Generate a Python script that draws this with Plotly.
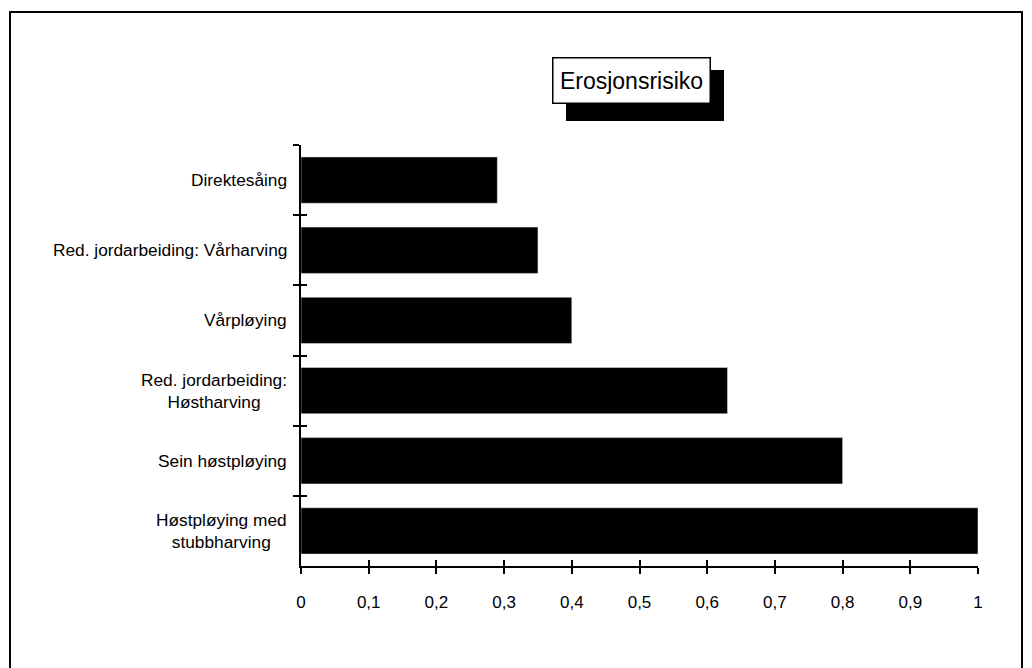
import plotly.graph_objects as go

categories = [
    "Direktesåing",
    "Red. jordarbeiding: Vårharving",
    "Vårpløying",
    "Red. jordarbeiding:<br>Høstharving",
    "Sein høstpløying",
    "Høstpløying med<br>stubbharving",
]
values = [0.29, 0.35, 0.40, 0.63, 0.80, 1.0]
x_ticks = [0, 0.1, 0.2, 0.3, 0.4, 0.5, 0.6, 0.7, 0.8, 0.9, 1]
title_text = "Erosjonsrisiko"

FONT = "Liberation Sans, Arial, Helvetica, sans-serif"
OFF = 8  # page body margin
W, H = 1032 - OFF, 668 - OFF
# plot area in page pixels: x 301..978, y 145..566
ML = 301 - OFF
MR = W - (978 - OFF)
MT = 145 - OFF
MB = H - (566 - OFF)
PW = W - ML - MR
PH = H - MT - MB


def px_x(p):  # page pixel -> paper fraction
    return (p - OFF - ML) / PW


def px_y(p):
    return (H - MB - (p - OFF)) / PH


fig = go.Figure()
fig.add_trace(go.Bar(
    x=values, y=categories, orientation="h",
    marker=dict(color="black", line=dict(width=0)),
    width=0.66, hoverinfo="skip", showlegend=False,
))
# invisible copy on overlay axes to draw the inner half of the ticks
fig.add_trace(go.Bar(
    x=values, y=categories, orientation="h", xaxis="x2", yaxis="y2",
    marker=dict(color="rgba(0,0,0,0)"), width=0.66,
    hoverinfo="skip", showlegend=False,
))

fig.update_layout(
    width=W, height=H,
    margin=dict(l=ML, r=MR, t=MT, b=MB),
    paper_bgcolor="white", plot_bgcolor="white",
    separators=",.",
    font=dict(family=FONT, color="black", size=16),
    xaxis=dict(
        range=[0, 1], tickvals=x_ticks, showgrid=False, zeroline=False,
        showline=True, linecolor="black", linewidth=1.5,
        ticks="outside", ticklen=6, tickcolor="black", tickwidth=1.5,
        tickfont=dict(size=17), ticklabelstandoff=14,
    ),
    yaxis=dict(
        categoryorder="array", categoryarray=categories,
        autorange="reversed", showgrid=False, zeroline=False,
        showline=True, linecolor="black", linewidth=1.5,
        ticks="outside", ticklen=6, tickcolor="black", tickwidth=1.5,
        tickson="boundaries", showticklabels=False,
    ),
    xaxis2=dict(
        overlaying="x", matches="x", anchor="y2", showgrid=False,
        zeroline=False, showline=False, tickvals=x_ticks,
        ticks="inside", ticklen=6, tickcolor="black", tickwidth=1.5,
        showticklabels=False,
    ),
    yaxis2=dict(
        overlaying="y", matches="y", anchor="x2", showgrid=False,
        zeroline=False, showline=False,
        ticks="inside", ticklen=6, tickcolor="black", tickwidth=1.5,
        tickson="boundaries", showticklabels=False,
    ),
)

annotations = []
for c in categories:
    annotations.append(dict(
        xref="paper", yref="y", x=0, y=c, xshift=-12,
        xanchor="right", yanchor="middle", align="center",
        text=c, showarrow=False, font=dict(size=17.3, family=FONT),
    ))

# title box
annotations.append(dict(
    xref="paper", yref="paper", x=px_x(631.5), y=px_y(80.5),
    xanchor="center", yanchor="middle", text=title_text, showarrow=False,
    font=dict(size=23, family=FONT), bgcolor="white",
    bordercolor="black", borderwidth=1.5, borderpad=3,
    width=150, height=38,
))
fig.update_layout(annotations=annotations)

shapes = [
    # shadow of title box
    dict(type="rect", xref="paper", yref="paper", layer="above",
         x0=px_x(566), x1=px_x(724), y0=px_y(121), y1=px_y(70),
         fillcolor="black", line=dict(width=0)),
    # outer frame
    dict(type="rect", xref="paper", yref="paper", layer="below",
         x0=px_x(10), x1=px_x(1022), y0=px_y(680), y1=px_y(12),
         fillcolor="rgba(0,0,0,0)", line=dict(color="black", width=2)),
]
fig.update_layout(shapes=shapes)

fig.write_html("out.html")
